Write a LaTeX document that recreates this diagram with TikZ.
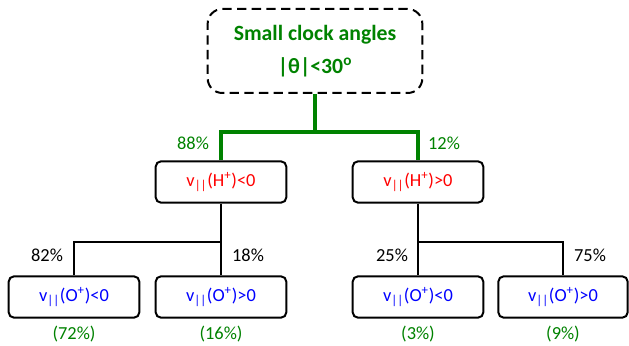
\documentclass[tikz,border=0pt]{standalone}
\usepackage{fontspec}
\setmainfont{Carlito}
\usepackage{tikz}
\usetikzlibrary{positioning}
\definecolor{clockgreen}{RGB}{0,130,0}
\definecolor{hred}{RGB}{255,0,0}
\definecolor{oblue}{RGB}{0,0,255}

\tikzset{
  clockbox/.style={draw, dashed, dash pattern=on 7pt off 4pt, line width=1.5pt,
    rounded corners=11pt, minimum width=161pt, minimum height=63pt,
    align=center, font=\fontsize{16.3}{25}\selectfont\bfseries, text=clockgreen},
  vbox/.style={draw, line width=1.5pt, rounded corners=4pt,
    minimum width=98pt, minimum height=31pt, inner sep=0pt,
    font=\fontsize{13.8}{16}\selectfont},
  pct/.style={font=\fontsize{13.8}{16}\selectfont, inner sep=0pt},
  gline/.style={clockgreen, line width=2.3pt},
  bline/.style={black, line width=1.6pt}
}

\begin{document}
\begin{tikzpicture}[x=0.75pt, y=-0.75pt]
\useasboundingbox (0,0) rectangle (629,346);

% Top box
\node[clockbox] (clock) at (315,51)
  {Small clock angles\\|θ|<30\textsuperscript{o}};

% H+ boxes
\node[vbox, text=hred] (hneg) at (221,182)
  {v\textsubscript{||}(H\textsuperscript{+})<0};
\node[vbox, text=hred] (hpos) at (418,182)
  {v\textsubscript{||}(H\textsuperscript{+})>0};

% O+ boxes
\node[vbox, text=oblue] (onegA) at (74,297)
  {v\textsubscript{||}(O\textsuperscript{+})<0};
\node[vbox, text=oblue] (oposA) at (221,297)
  {v\textsubscript{||}(O\textsuperscript{+})>0};
\node[vbox, text=oblue] (onegB) at (418,297)
  {v\textsubscript{||}(O\textsuperscript{+})<0};
\node[vbox, text=oblue, minimum width=97pt] (oposB) at (563,297)
  {v\textsubscript{||}(O\textsuperscript{+})>0};

% Split points
\coordinate (gsplit) at (315,132);
\coordinate (lsplit) at (221,242);
\coordinate (rsplit) at (418,242);

% Connectors
\draw[gline] (clock.south) -- (gsplit);
\draw[gline] (hneg.north) |- (gsplit) -| (hpos.north);
\draw[bline] (hneg.south) -- (oposA.north);
\draw[bline] (onegA.north) |- (lsplit);
\draw[bline] (hpos.south) -- (onegB.north);
\draw[bline] (rsplit) -| (oposB.north);

% Branch percentages
\node[pct, text=clockgreen] (p88) at (193,143) {88\%};
\node[pct, text=clockgreen] (p12) at (444,143) {12\%};
\node[pct] (p82) at (47,255) {82\%};
\node[pct] (p18) at (248,255) {18\%};
\node[pct] (p25) at (392,255) {25\%};
\node[pct] (p75) at (590,255) {75\%};

% Totals
\node[pct, text=clockgreen] (t72) at (74,334) {(72\%)};
\node[pct, text=clockgreen] (t16) at (221,334) {(16\%)};
\node[pct, text=clockgreen] (t3) at (418,334) {(3\%)};
\node[pct, text=clockgreen] (t9) at (563,334) {(9\%)};
\end{tikzpicture}
\end{document}
